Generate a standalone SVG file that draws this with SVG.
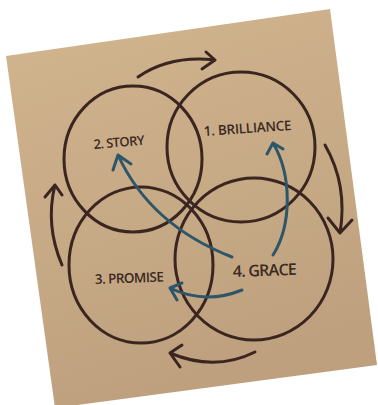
<svg xmlns="http://www.w3.org/2000/svg" width="378" height="405" viewBox="0 0 378 405">
<defs>
<linearGradient id="paper" x1="0" y1="0" x2="0.3" y2="1">
<stop offset="0" stop-color="#d2b68f"/>
<stop offset="1" stop-color="#bea07e"/>
</linearGradient>
<style>
.c{fill:none;stroke:#3a2520;stroke-width:3}
.a{fill:none;stroke:#3a2520;stroke-width:3;stroke-linecap:round;stroke-linejoin:round}
.b{fill:none;stroke:#2d5668;stroke-width:3;stroke-linecap:round;stroke-linejoin:round}
.t{font-family:"Open Sans","Liberation Sans",sans-serif;font-weight:600;fill:#3b2a22}
</style>
</defs>
<rect width="378" height="405" fill="#ffffff"/>
<polygon points="6,56 330,9 377,365 55,408" fill="url(#paper)"/>
<g id="story"><ellipse class="c" cx="133" cy="159" rx="69" ry="73"/>
<text class="t" x="94" y="149" font-size="13" textLength="51" transform="rotate(-5 94 149)">2. STORY</text></g>
<g id="brilliance"><ellipse class="c" cx="241" cy="147" rx="74" ry="75"/>
<text class="t" x="204" y="136" font-size="13.5" textLength="88" transform="rotate(-4 204 136)">1. BRILLIANCE</text></g>
<g id="promise"><ellipse class="c" cx="141" cy="265" rx="72" ry="78"/>
<text class="t" x="95" y="284" font-size="13.5" textLength="69" transform="rotate(-2 95 284)">3. PROMISE</text></g>
<g id="grace"><ellipse class="c" cx="254" cy="259" rx="79" ry="81"/>
<text class="t" x="233" y="277" font-size="16" textLength="64" transform="rotate(-2 233 277)">4. GRACE</text></g>
<g id="connectors">
<path class="a" d="M138,77 Q170,55 215,60 M206,52 L215,60 L202,69"/>
<path class="a" d="M325,145 Q348,185 340,233 M328,218 L340,233 L352,220"/>
<path class="a" d="M255,352 Q215,372 170,353 M182,345 L170,353 L180,367"/>
<path class="a" d="M62,265 Q45,225 55,185 M45,197 L55,185 L62,195"/>
<path class="b" d="M232,257 Q150,225 118,155 M113,170 L118,155 L131,164"/>
<path class="b" d="M273,255 C292,225 292,175 273,143 M267,154 L273,143 L283,149"/>
<path class="b" d="M242,290 Q205,305 170,288 M177,300 L170,288 L182,283"/>
</g>
</svg>
